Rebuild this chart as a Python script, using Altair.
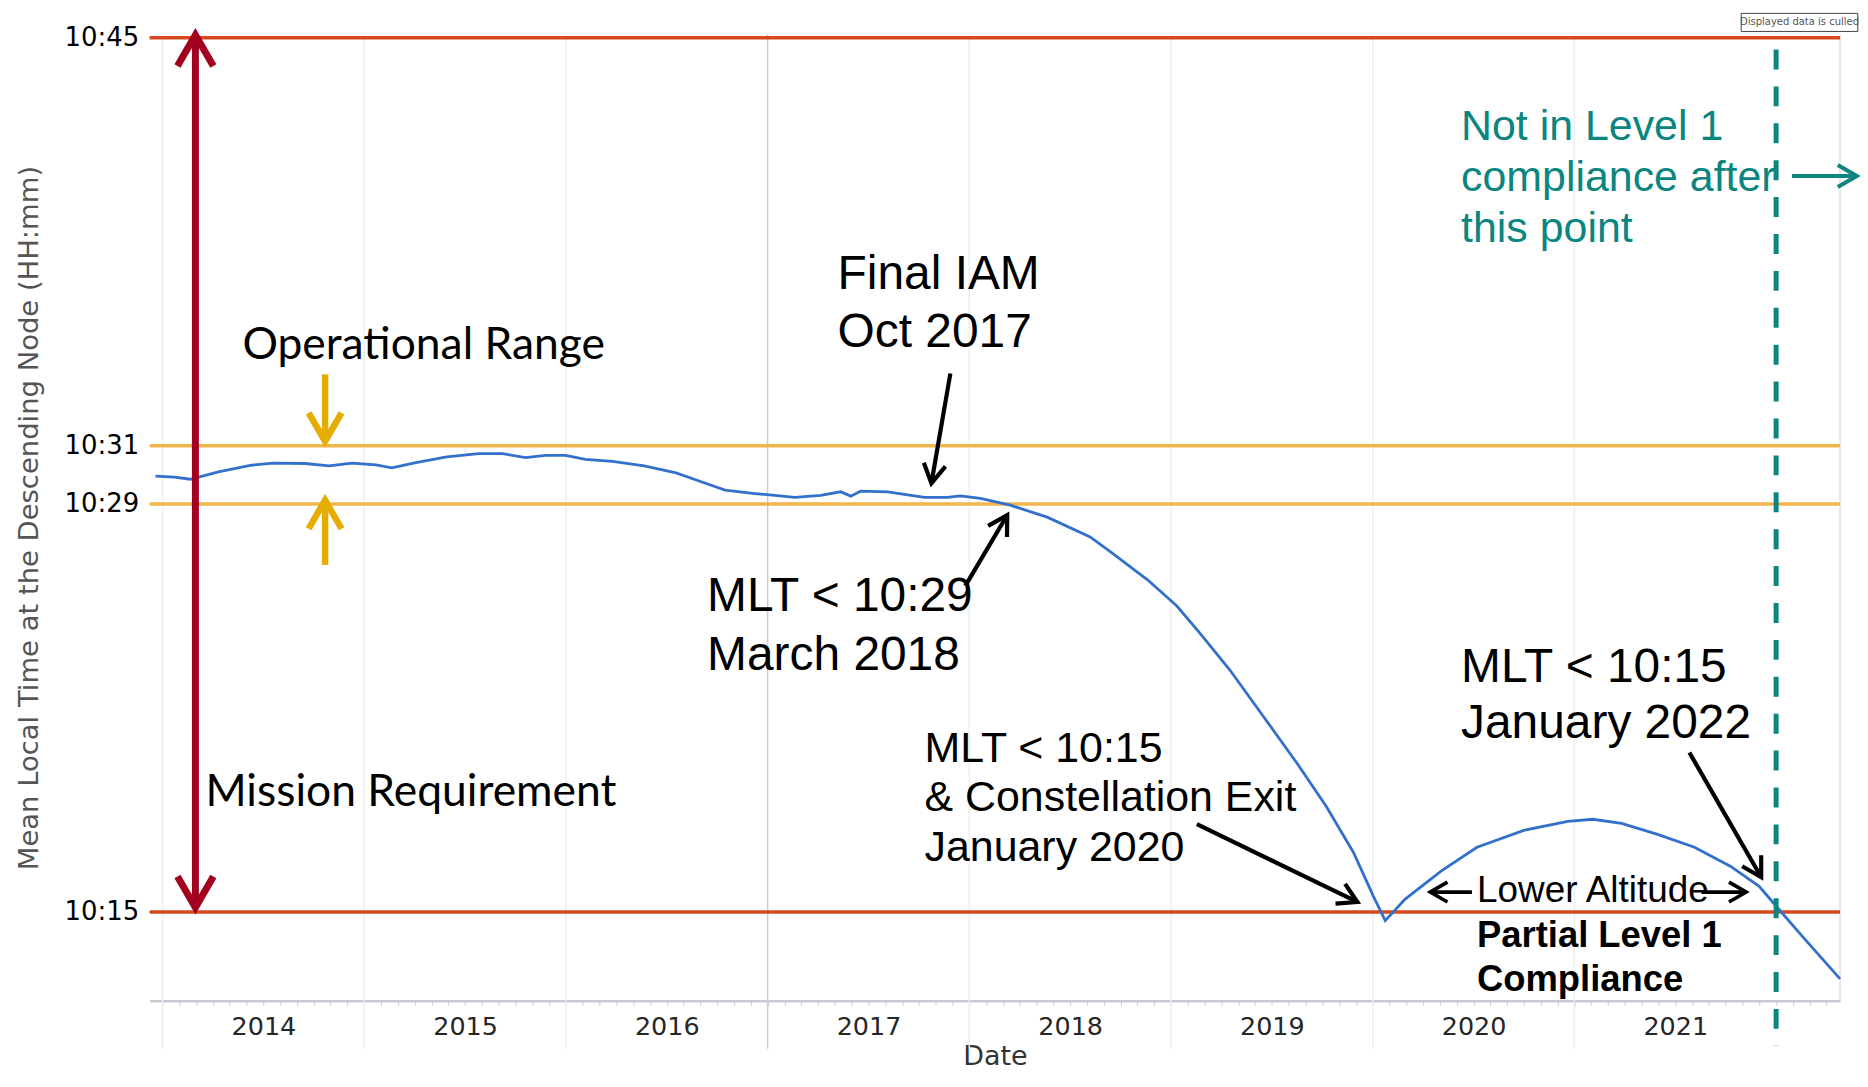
import math
import altair as alt
import pandas as pd

# ---------------- values ----------------
# decimal year / mean local time of descending node in minutes after midnight
curve_year = [2013.965, 2014.059, 2014.138, 2014.277, 2014.435, 2014.549, 2014.707, 2014.826,
              2014.939, 2015.058, 2015.137, 2015.256, 2015.409, 2015.567, 2015.686, 2015.800,
              2015.899, 2015.998, 2016.097, 2016.231, 2016.388, 2016.546, 2016.660, 2016.789,
              2016.937, 2017.135, 2017.263, 2017.362, 2017.412, 2017.461, 2017.595, 2017.778,
              2017.891, 2017.956, 2018.055, 2018.203, 2018.386, 2018.599, 2018.707, 2018.885,
              2019.029, 2019.142, 2019.291, 2019.459, 2019.622, 2019.770, 2019.904, 2020.003,
              2020.062, 2020.161, 2020.339, 2020.517, 2020.749, 2020.967, 2021.091, 2021.234,
              2021.412, 2021.595, 2021.773, 2021.916, 2022.005, 2022.129, 2022.317]
curve_mlt = [629.96, 629.92, 629.85, 630.10, 630.33, 630.40, 630.39, 630.31,
             630.40, 630.34, 630.24, 630.42, 630.62, 630.73, 630.73, 630.59,
             630.67, 630.67, 630.53, 630.46, 630.31, 630.07, 629.79, 629.48,
             629.36, 629.23, 629.30, 629.42, 629.27, 629.44, 629.42, 629.23,
             629.23, 629.28, 629.19, 628.96, 628.55, 627.87, 627.32, 626.39,
             625.50, 624.58, 623.31, 621.70, 620.13, 618.62, 617.05, 615.54,
             614.70, 615.44, 616.40, 617.22, 617.80, 618.11, 618.18, 618.04,
             617.66, 617.22, 616.57, 615.88, 615.16, 614.17, 612.70]

requirement_lines = [615, 645]     # 10:15 and 10:45
operational_lines = [629, 631]     # 10:29 and 10:31
y_tick_values = [615, 629, 631, 645]
year_labels = [2014, 2015, 2016, 2017, 2018, 2019, 2020, 2021]
grid_years = [2014, 2015, 2016, 2017, 2018, 2019, 2020, 2021]
noncompliance_year = 2022.0

X_DOMAIN = [2013.936, 2022.317]
Y_DOMAIN = [611.95, 645.12]
W, H = 1695, 969
PXYR = W / (X_DOMAIN[1] - X_DOMAIN[0])
PXMIN = H / (Y_DOMAIN[1] - Y_DOMAIN[0])

TEAL = "#0B8580"
BLACK = "#000000"
CHEV = "M-1,-0.577L0,0L-1,0.577"

# annotation arrows: tail x, tail y, tip x, tip y, colour, width, head length, double
arrow_specs = [
    (2014.163, 615.15, 2014.163, 645.10, "#A3001F", 7.0, 36, True),
    (2014.806, 633.45, 2014.806, 631.15, "#E5AD00", 6.5, 33, False),
    (2014.806, 626.91, 2014.806, 629.13, "#E5AD00", 6.5, 33, False),
    (2017.906, 633.48, 2017.812, 629.71, BLACK, 4.2, 22, False),
    (2017.980, 626.19, 2018.188, 628.62, BLACK, 4.2, 22, False),
    (2019.128, 618.01, 2019.924, 615.34, BLACK, 4.2, 22, False),
    (2021.570, 620.47, 2021.926, 616.19, BLACK, 4.2, 22, False),
    (2020.492, 615.68, 2020.285, 615.68, BLACK, 3.6, 20, False),
    (2021.630, 615.68, 2021.852, 615.68, BLACK, 3.6, 20, False),
    (2022.079, 640.26, 2022.400, 640.26, TEAL, 4.0, 22, False),
]

# annotation texts: text, x, baseline y, font size, colour
notes_arial = [
    ("Final IAM", 2017.347, 636.39, 48, BLACK),
    ("Oct 2017", 2017.347, 634.40, 48, BLACK),
    ("MLT < 10:29", 2016.700, 625.33, 48, BLACK),
    ("March 2018", 2016.700, 623.31, 48, BLACK),
    ("MLT < 10:15", 2017.778, 620.16, 43, BLACK),
    ("& Constellation Exit", 2017.778, 618.45, 43, BLACK),
    ("January 2020", 2017.778, 616.74, 43, BLACK),
    ("MLT < 10:15", 2020.438, 622.90, 48, BLACK),
    ("January 2022", 2020.438, 620.98, 48, BLACK),
    ("Not in Level 1", 2020.438, 641.48, 43, TEAL),
    ("compliance after", 2020.438, 639.75, 43, TEAL),
    ("this point", 2020.438, 638.01, 43, TEAL),
    ("Lower Altitude", 2020.517, 615.34, 37, BLACK),
]
notes_bold = [
    ("Partial Level 1", 2020.517, 613.80, 36.5, BLACK),
    ("Compliance", 2020.517, 612.29, 36.5, BLACK),
]
notes_calibri = [
    ("Operational Range", 2014.396, 633.99, 44.5, BLACK),
    ("Mission Requirement", 2014.213, 618.62, 44.5, BLACK),
]
culled_box = {"x": 2021.827, "x2": 2022.405, "y": 645.22, "y2": 645.84}
culled_text = "Displayed data is culled"

# ---------------- build tables ----------------
curve_df = pd.DataFrame({"x": curve_year, "y": curve_mlt})

shafts, heads = [], []
for x0, y0, x1, y1, col, sw, L, both in arrow_specs:
    dx = (x1 - x0) * PXYR
    dy = -(y1 - y0) * PXMIN
    n = math.hypot(dx, dy)
    ux, uy = dx / n, dy / n
    cut = sw * 0.6
    ex, ey = x1 - ux * cut / PXYR, y1 + uy * cut / PXMIN
    sx, sy = x0, y0
    if both:
        sx, sy = x0 + ux * cut / PXYR, y0 - uy * cut / PXMIN
    shafts.append({"x": sx, "y": sy, "x2": ex, "y2": ey, "col": col, "sw": sw})
    ang = math.degrees(math.atan2(uy, ux)) % 360
    size = (L / 0.577) ** 2
    heads.append({"x": x1, "y": y1, "ang": ang, "sz": size, "col": col, "sw": sw})
    if both:
        heads.append({"x": x0, "y": y0, "ang": (ang + 180) % 360, "sz": size, "col": col, "sw": sw})
shaft_df = pd.DataFrame(shafts)
head_df = pd.DataFrame(heads)

def notes_df(rows):
    return pd.DataFrame(rows, columns=["text", "x", "y", "size", "col"])

grid_df = pd.DataFrame({
    "x": grid_years + [X_DOMAIN[1]],
    "y": [Y_DOMAIN[1]] * (len(grid_years) + 1),
    "y2": [610.3] * len(grid_years) + [Y_DOMAIN[0]],
    "col": ["#C8CDD2" if g == 2017 else "#ECEEF0" for g in grid_years] + ["#DDE0E3"],
})

month_ticks = [2014 + k / 12 for k in range(0, 100) if 2014 + k / 12 <= X_DOMAIN[1]]

x_axis = alt.Axis(
    values=month_ticks,
    labelExpr="abs(datum.value - floor(datum.value) - 0.5) < 0.01 ? '' + floor(datum.value) : ''",
    labelOverlap=False, labelFlush=False, labelBound=False,
    grid=False, domainColor="#C5CBD1", domainWidth=2.5,
    tickColor="#CDD1D5", tickSize=5, tickWidth=1,
    labelFont="DejaVu Sans", labelFontSize=25.5, labelColor="#262626", labelPadding=9,
    title="Date", titleFont="DejaVu Sans", titleFontSize=27, titleFontWeight="normal",
    titleColor="#333333", titleY=56, titleBaseline="middle",
)
y_axis = alt.Axis(
    values=y_tick_values,
    labelExpr="'10:' + format(datum.value - 600, '02d')",
    domain=False, ticks=False, tickSize=0, grid=False,
    labelFont="DejaVu Sans", labelFontSize=26, labelColor="#000000", labelPadding=11,
    title="Mean Local Time at the Descending Node (HH:mm)",
    titleFont="DejaVu Sans", titleFontSize=27.5, titleFontWeight="normal",
    titleColor="#555555", titleX=-120, titleY=H / 2, titleBaseline="middle", titleAngle=270,
)
X = alt.X("x:Q", scale=alt.Scale(domain=X_DOMAIN, nice=False, zero=False), axis=x_axis)
Y = alt.Y("y:Q", scale=alt.Scale(domain=Y_DOMAIN, nice=False, zero=False), axis=y_axis)

grid = alt.Chart(grid_df).mark_rule(strokeWidth=1.5).encode(
    x=X, y=Y, y2="y2:Q", color=alt.Color("col:N", scale=None))

req = alt.Chart(pd.DataFrame({"y": requirement_lines})).mark_rule(
    color="#D6491D", strokeWidth=3.5).encode(y=Y)
ops = alt.Chart(pd.DataFrame({"y": operational_lines})).mark_rule(
    color="#F1B54C", strokeWidth=3.5).encode(y=Y)

line = alt.Chart(curve_df).mark_line(color="#3370CC", strokeWidth=2.8).encode(x=X, y=Y)

teal_line = alt.Chart(pd.DataFrame({"x": [noncompliance_year], "y": [644.6], "y2": [610.4]})).mark_rule(
    color=TEAL, strokeWidth=5, strokeDash=[20, 17]).encode(x=X, y=Y, y2="y2:Q")

shaft_layer = alt.Chart(shaft_df).mark_rule().encode(
    x=X, y=Y, x2="x2:Q", y2="y2:Q",
    color=alt.Color("col:N", scale=None),
    strokeWidth=alt.StrokeWidth("sw:Q", scale=None))
head_layer = alt.Chart(head_df).mark_point(shape=CHEV, filled=False, opacity=1, strokeJoin="miter").encode(
    x=X, y=Y,
    angle=alt.Angle("ang:Q", scale=None),
    size=alt.Size("sz:Q", scale=None),
    color=alt.Color("col:N", scale=None),
    strokeWidth=alt.StrokeWidth("sw:Q", scale=None))

def text_layer(rows, font, weight="normal"):
    return alt.Chart(notes_df(rows)).mark_text(
        align="left", baseline="alphabetic", font=font, fontWeight=weight).encode(
        x=X, y=Y, text="text:N",
        size=alt.Size("size:Q", scale=None),
        color=alt.Color("col:N", scale=None))

t1 = text_layer(notes_arial, "Liberation Sans")
t2 = text_layer(notes_bold, "Liberation Sans", "bold")
t3 = text_layer(notes_calibri, "Lato")

box = alt.Chart(pd.DataFrame([culled_box])).mark_rect(
    fill="white", stroke="#444444", strokeWidth=1).encode(x=X, x2="x2:Q", y=Y, y2="y2:Q")
box_text = alt.Chart(pd.DataFrame([{
    "x": (culled_box["x"] + culled_box["x2"]) / 2,
    "y": (culled_box["y"] + culled_box["y2"]) / 2,
    "text": culled_text}])).mark_text(
    font="DejaVu Sans", fontSize=10, color="#555555", align="center", baseline="middle").encode(
    x=X, y=Y, text="text:N")

chart = alt.layer(
    grid, req, ops, line, teal_line, shaft_layer, head_layer, t1, t2, t3, box, box_text
).properties(
    width=W, height=H,
    padding={"left": 142, "top": 25, "right": 20, "bottom": 71},
    autosize=alt.AutoSizeParams(type="none"),
    background="white",
).configure_view(stroke=None)

chart.save("out.html", embed_options={"renderer": "svg", "actions": False})
